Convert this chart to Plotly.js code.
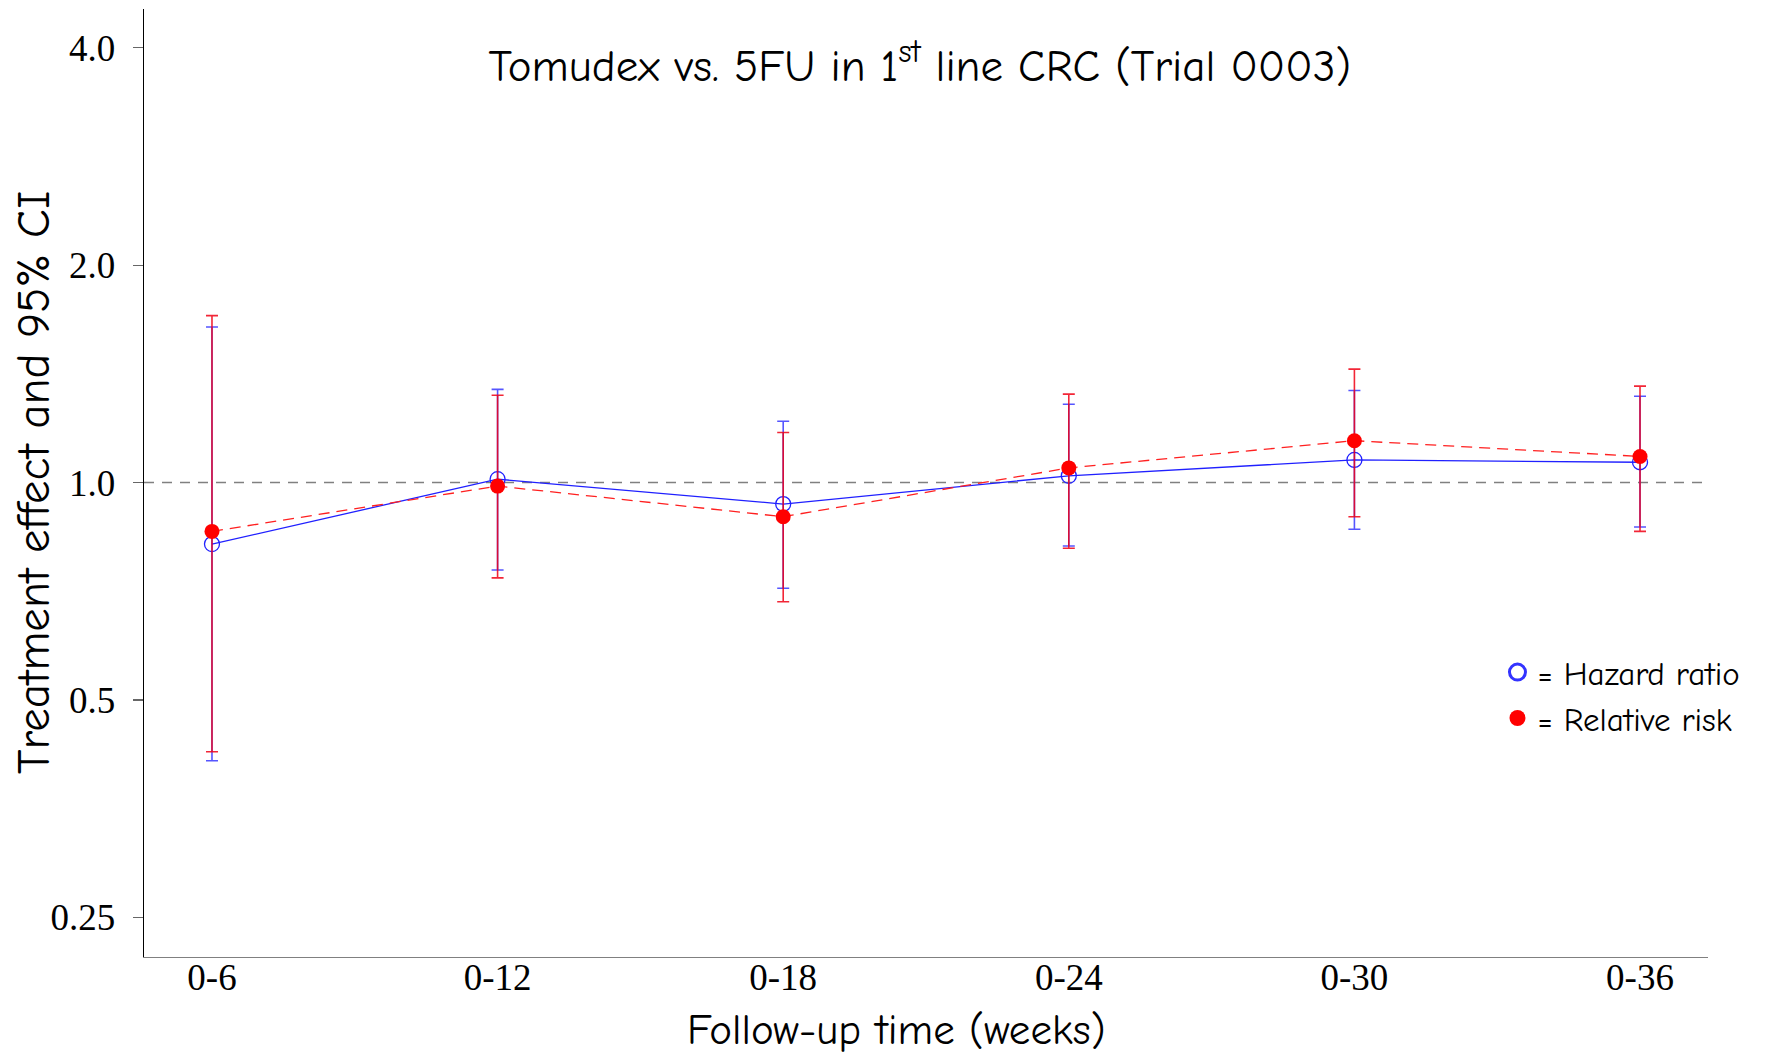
<!DOCTYPE html>
<html>
<head>
<meta charset="utf-8">
<script src="https://cdn.plot.ly/plotly-3.0.1.min.js"></script>
<style>html,body{margin:0;padding:0;background:#fff;}#chart{width:1779px;height:1059px;}</style>
</head>
<body>
<div id="chart"></div>
<script>
// ---- Data ----
const categories = ['0-6', '0-12', '0-18', '0-24', '0-30', '0-36'];

const hrValue = [0.822, 1.011, 0.934, 1.022, 1.075, 1.067];
const hrUpper = [1.642, 1.346, 1.216, 1.284, 1.341, 1.317];
const hrLower = [0.412, 0.757, 0.714, 0.817, 0.862, 0.868];

const rrValue = [0.856, 0.989, 0.897, 1.048, 1.143, 1.087];
const rrUpper = [1.703, 1.321, 1.173, 1.326, 1.436, 1.360];
const rrLower = [0.424, 0.738, 0.684, 0.811, 0.897, 0.856];

const yTickVals = [0.25, 0.5, 1, 2, 4];
const yTickText = ['0.25', '0.5', '1.0', '2.0', '4.0'];
const refValue = 1;

const titleText = 'Tomudex vs. 5FU in 1<sup>st</sup> line CRC (Trial 0003)';
const xTitle = 'Follow-up time (weeks)';
const yTitle = 'Treatment effect and 95% CI';
const hrName = '= Hazard ratio';
const rrName = '= Relative risk';

// ---- Build ----
const plus = (u, v) => u.map((x, i) => x - v[i]);
const minus = (v, l) => v.map((x, i) => x - l[i]);

const comic = '"Comic Sans MS", "Comic Neue", "Noto Sans", sans-serif';
const serif = '"Liberation Serif", "Times New Roman", serif';

const traces = [
  {
    x: categories, y: hrValue, type: 'scatter', mode: 'lines+markers',
    showlegend: false,
    line: {color: '#2020ff', width: 1.3},
    marker: {symbol: 'circle-open', size: 15, color: '#2020ff', line: {width: 1.3, color: '#2020ff'}},
    error_y: {type: 'data', symmetric: false, array: plus(hrUpper, hrValue), arrayminus: minus(hrValue, hrLower),
              color: '#5555ff', thickness: 1.6, width: 6}
  },
  {
    x: categories, y: rrValue, type: 'scatter', mode: 'lines+markers',
    showlegend: false,
    line: {color: '#ff2020', width: 1.3, dash: '11px,7px'},
    marker: {symbol: 'circle', size: 15, color: '#ff0000'},
    error_y: {type: 'data', symmetric: false, array: plus(rrUpper, rrValue), arrayminus: minus(rrValue, rrLower),
              color: 'rgba(240,0,20,0.85)', thickness: 1.6, width: 6}
  },
  {
    x: [null], y: [null], type: 'scatter', mode: 'markers', name: hrName, showlegend: true, legendgroup: 'a',
    marker: {symbol: 'circle-open', size: 21, color: '#3333ff', line: {width: 3, color: '#3333ff'}}
  },
  {
    x: [null], y: [null], type: 'scatter', mode: 'markers', name: rrName, showlegend: true, legendgroup: 'b',
    marker: {symbol: 'circle', size: 23, color: '#ff0000'}
  }
];

const layout = {
  width: 1779, height: 1059,
  margin: {l: 144, r: 71, t: 9, b: 102, pad: 0},
  paper_bgcolor: '#fff', plot_bgcolor: '#fff',
  title: {text: titleText, font: {family: comic, size: 45, color: '#000'},
          x: 0.517, xanchor: 'center', y: 0.9385, yanchor: 'middle'},
  xaxis: {
    type: 'category', categoryorder: 'array', categoryarray: categories,
    range: [-0.238, 5.238],
    showline: true, linecolor: '#808080', linewidth: 1.3,
    ticks: '', showgrid: false, zeroline: false,
    tickfont: {family: serif, size: 37, color: '#000'},
    ticklabelstandoff: -13
  },
  yaxis: {
    type: 'log', range: [Math.log10(0.2204), Math.log10(4.526)],
    tickvals: yTickVals, ticktext: yTickText,
    showline: true, linecolor: '#000', linewidth: 1.3,
    ticks: 'outside', ticklen: 10, tickwidth: 1.3, tickcolor: '#666',
    showgrid: false, zeroline: false,
    tickfont: {family: serif, size: 37, color: '#000'},
    ticklabelstandoff: 10
  },
  annotations: [
    {text: xTitle, xref: 'paper', yref: 'paper', x: 0.481, y: -0.0775, xanchor: 'center', yanchor: 'middle',
     showarrow: false, borderpad: 0, font: {family: comic, size: 43, color: '#000'}},
    {text: yTitle, xref: 'paper', yref: 'paper', x: -0.0703, y: 0.5, xanchor: 'center', yanchor: 'middle',
     textangle: -90, showarrow: false, font: {family: comic, size: 47, color: '#000'}}
  ],
  shapes: [{
    type: 'line', xref: 'paper', x0: 0, x1: 1, yref: 'y', y0: refValue, y1: refValue,
    line: {color: '#808080', width: 1.5, dash: '10px,8px'}, layer: 'below'
  }],
  showlegend: true,
  legend: {x: 0.8654, xanchor: 'left', y: 0.330, yanchor: 'top', bgcolor: 'rgba(0,0,0,0)',
           font: {family: comic, size: 33, color: '#000'}, itemwidth: 30, tracegroupgap: 0},
};

Plotly.newPlot('chart', traces, layout, {displayModeBar: false, staticPlot: true});
</script>
</body>
</html>
